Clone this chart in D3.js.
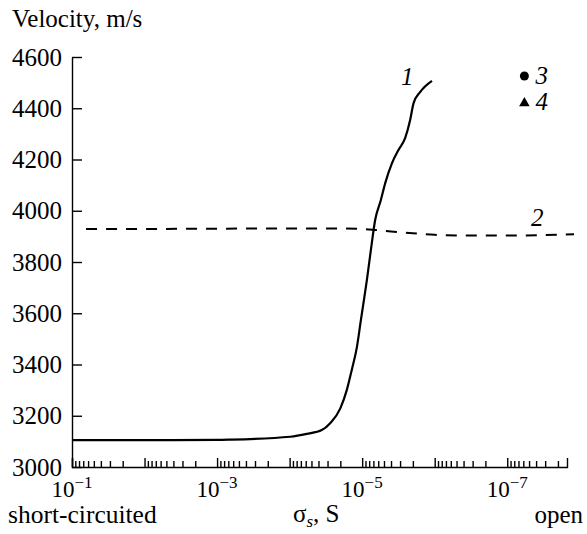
<!DOCTYPE html>
<html>
<head>
<meta charset="utf-8">
<script src="https://cdn.jsdelivr.net/npm/d3@7"></script>
<style>
  body { margin: 0; background: #fff; }
  svg { display: block; }
</style>
</head>
<body>
<svg id="chart"></svg>
<script>
// curve 1: velocity vs surface conductivity (solid)
const sigma1 = [1e-1, 1e-2, 1e-3, 6.6e-4, 9.8e-5, 5.8e-5, 3.6e-5, 2.76e-5, 2.0e-5, 1.63e-5,
  1.39e-5, 1.18e-5, 1.04e-5, 9.77e-6, 8.6e-6, 7.58e-6, 6.62e-6, 5.52e-6, 4.82e-6, 3.89e-6,
  3.16e-6, 2.55e-6, 2.18e-6, 1.96e-6, 1.58e-6, 1.09e-6];
const vel1 = [3105, 3105, 3106, 3107, 3118, 3129, 3144, 3171, 3229, 3300,
  3379, 3469, 3574, 3625, 3730, 3847, 3964, 4042, 4107, 4185,
  4237, 4284, 4354, 4419, 4464, 4507];

// curve 2 (dashed)
const sigma2 = [6.4e-2, 1e-2, 1e-3, 1e-4, 2e-5, 1e-5, 6.6e-6, 4e-6, 2e-6, 1e-6, 3e-7, 1e-7, 3e-8, 1.2e-8];
const vel2 = [3929, 3929, 3930, 3931, 3931, 3929, 3925, 3919, 3912, 3906, 3903, 3903, 3905, 3908];

// single points 3 and 4
const pointSigma = [5.8e-8, 5.8e-8];
const pointVel = [4526, 4424];
const pointNames = ["3", "4"];

const yTicks = [3000, 3200, 3400, 3600, 3800, 4000, 4200, 4400, 4600];
const xMajor = [1e-1, 1e-2, 1e-3, 1e-4, 1e-5, 1e-6, 1e-7];
const xLabelExp = [-1, -3, -5, -7];
const xDomain = [1e-1, 1.5e-8];

const W = 587, H = 534;
const margin = { top: 57, right: 20, bottom: 67, left: 72 };
const FONT = 'Liberation Serif';

const svg = d3.select('#chart')
  .attr('width', W)
  .attr('height', H);

const x = d3.scaleLog()
  .domain(xDomain)
  .range([margin.left, 567]);
const y = d3.scaleLinear()
  .domain([3000, 4600])
  .range([H - margin.bottom, margin.top]);

// minor ticks 2..9 in each decade
const xMinor = [];
xMajor.forEach(d => {
  for (let k = 2; k <= 9; k++) {
    const v = d * k / 10;
    if (v >= xDomain[1]) xMinor.push(v);
  }
});

const yAxis = d3.axisLeft(y)
  .tickValues(yTicks)
  .tickFormat(d3.format('d'))
  .tickSize(-10)
  .tickSizeOuter(0)
  .tickPadding(10);
const gy = svg.append('g')
  .attr('transform', `translate(${margin.left},0)`)
  .call(yAxis);
gy.attr('font-family', FONT).attr('font-size', 25);
gy.selectAll('text')
  .attr('font-family', FONT)
  .attr('font-size', 25)
  .attr('fill', '#000');

const gxMinor = svg.append('g')
  .attr('transform', `translate(0,${H - margin.bottom})`)
  .call(d3.axisBottom(x).tickValues(xMinor).tickSize(-6).tickFormat(''));
gxMinor.select('.domain').remove();

const gx = svg.append('g')
  .attr('transform', `translate(0,${H - margin.bottom})`)
  .call(d3.axisBottom(x).tickValues(xMajor).tickSize(-9).tickSizeOuter(-9).tickFormat(''));

svg.selectAll('.domain, .tick line')
  .attr('stroke', '#000')
  .attr('stroke-width', 1.4);

function addText(x0, y0, size, str, italic) {
  return svg.append('text')
    .attr('x', x0).attr('y', y0)
    .attr('font-family', FONT)
    .attr('font-size', size)
    .attr('font-style', italic ? 'italic' : 'normal')
    .attr('fill', '#000')
    .text(str);
}

// decade labels 10^n
xLabelExp.forEach(e => {
  const t = addText(x(Math.pow(10, e)), 497, 23, null, false)
    .attr('text-anchor', 'middle');
  t.append('tspan').text('10');
  t.append('tspan').attr('dy', -9).attr('font-size', 17).text('\u2212' + Math.abs(e));
});

// lines
const line = d3.line()
  .x(d => x(d[0]))
  .y(d => y(d[1]))
  .curve(d3.curveMonotoneX);

svg.append('path')
  .datum(sigma2.map((s, i) => [s, vel2[i]]))
  .attr('d', line)
  .attr('fill', 'none')
  .attr('stroke', '#000')
  .attr('stroke-width', 2)
  .attr('stroke-dasharray', '11,9');

svg.append('path')
  .datum(sigma1.map((s, i) => [s, vel1[i]]))
  .attr('d', line)
  .attr('fill', 'none')
  .attr('stroke', '#000')
  .attr('stroke-width', 2.2);

// points 3 and 4
svg.append('circle')
  .attr('cx', x(pointSigma[0]))
  .attr('cy', y(pointVel[0]))
  .attr('r', 4.5)
  .attr('fill', '#000');
svg.append('path')
  .attr('d', d3.symbol(d3.symbolTriangle, 48)())
  .attr('transform', `translate(${x(pointSigma[1])},${y(pointVel[1]) + 1})`)
  .attr('fill', '#000');

pointNames.forEach((n, i) => {
  addText(x(pointSigma[i]) + 11, y(pointVel[i]) + 8, 25, n, true);
});

// curve labels
addText(401, 85, 25, '1', true);
addText(531, 226, 25, '2', true);

// axis titles
addText(12, 27, 25, 'Velocity, m/s', false);
addText(8, 523, 25.5, 'short-circuited', false);

const st = addText(293, 522, 25, null, false);
st.append('tspan').text('\u03c3');
st.append('tspan').attr('dy', 5).attr('font-size', 17).attr('font-style', 'italic').text('s');
st.append('tspan').attr('dy', -5).text(', S');

addText(583, 523, 25, 'open', false).attr('text-anchor', 'end');
</script>
</body>
</html>
